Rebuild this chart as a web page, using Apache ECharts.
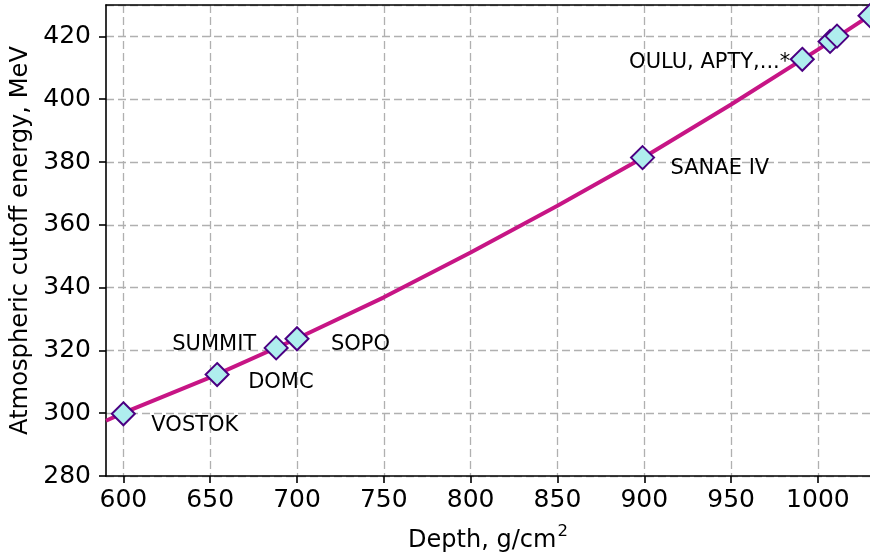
<!DOCTYPE html>
<html>
<head>
<meta charset="utf-8">
<script src="https://cdn.jsdelivr.net/npm/echarts@6/dist/echarts.min.js"></script>
<style>
html,body{margin:0;padding:0;background:#fff;}
#chart{width:870px;height:558px;}
</style>
</head>
<body>
<div id="chart"></div>
<script>
// Fitted curve (depth g/cm2 -> cutoff energy MeV)
var curveDepth  = [590, 600, 650, 700, 750, 800, 850, 900, 950, 1000, 1030];
var curveEnergy = [297.6, 300.1, 311.4, 323.8, 336.9, 351.2, 366.1, 381.6, 398.3, 415.8, 426.7];

// Stations
var stationNames  = ['VOSTOK', 'DOMC', 'SUMMIT', 'SOPO', 'SANAE IV', 'OULU, APTY,...*', '', '', ''];
var stationDepth  = [600, 654, 688, 700, 899, 991, 1007, 1011, 1030];
var stationEnergy = [299.8, 312.3, 320.8, 323.7, 381.4, 412.7, 418.4, 420.1, 426.6];

// label placement (style only)
var labelAlign  = ['left', 'left', 'right', 'left', 'left', 'right', 'left', 'left', 'left'];
var labelOffset = [[28, 12], [31, 8], [-20, -3], [34, 6], [28, 11], [-12, 3], [0, 0], [0, 0], [0, 0]];

var xTicks = [600, 650, 700, 750, 800, 850, 900, 950, 1000];
var yTicks = [280, 300, 320, 340, 360, 380, 400, 420];

var FONT = 'DejaVu Sans';

var curveData = curveDepth.map(function (d, i) { return [d, curveEnergy[i]]; });
var stationData = stationDepth.map(function (d, i) {
  return {
    value: [d, stationEnergy[i]],
    label: {
      show: stationNames[i] !== '',
      formatter: stationNames[i],
      position: ['50%', '50%'],
      align: labelAlign[i],
      verticalAlign: 'middle',
      offset: labelOffset[i]
    }
  };
});

var chart = echarts.init(document.getElementById('chart'), null, {renderer: 'canvas'});
chart.setOption({
  animation: false,
  backgroundColor: '#ffffff',
  grid: {left: 106, right: 0, top: 5, bottom: 80, containLabel: false},
  xAxis: [{
    type: 'value',
    min: 590, max: 1030,
    name: '{a|Depth, g/cm}{s|2}',
    nameLocation: 'middle',
    nameGap: 47,
    nameTextStyle: {
      rich: {
        a: {fontFamily: FONT, fontSize: 24, color: '#000', lineHeight: 30, verticalAlign: 'bottom'},
        s: {fontFamily: FONT, fontSize: 16.5, color: '#000', lineHeight: 30, verticalAlign: 'top', padding: [0, 0, 0, 1]}
      }
    },
    axisLine: {show: true, onZero: false, lineStyle: {color: '#000', width: 1.6}},
    axisTick: {show: true, length: 7, customValues: xTicks, lineStyle: {color: '#000', width: 1.6}},
    axisLabel: {
      fontFamily: FONT, fontSize: 25, color: '#000', margin: 12,
      customValues: xTicks,
      formatter: function (v) { return String(v); }
    },
    splitLine: {show: true, lineStyle: {color: '#b0b0b0', width: 1.3, type: [8, 4]}}
  }, {
    type: 'value', position: 'top',
    min: 590, max: 1030,
    axisLine: {show: true, onZero: false, lineStyle: {color: '#000', width: 1.6}},
    axisTick: {show: false}, axisLabel: {show: false}, splitLine: {show: false}
  }],
  yAxis: {
    type: 'value',
    min: 280, max: 430, interval: 20,
    name: 'Atmospheric cutoff energy, MeV',
    nameLocation: 'middle',
    nameGap: 70,
    nameTextStyle: {fontFamily: FONT, fontSize: 24.2, color: '#000'},
    axisLine: {show: true, onZero: false, lineStyle: {color: '#000', width: 1.6}},
    axisTick: {show: true, length: 7, lineStyle: {color: '#000', width: 1.6}},
    axisLabel: {
      fontFamily: FONT, fontSize: 25, color: '#000', margin: 15,
      showMaxLabel: false,
      formatter: function (v) { return yTicks.indexOf(v) >= 0 ? String(v) : ''; }
    },
    splitLine: {show: true, lineStyle: {color: '#b0b0b0', width: 1.3, type: [8, 4]}}
  },
  series: [{
    type: 'line',
    xAxisIndex: 0,
    data: curveData,
    showSymbol: false,
    symbol: 'none',
    smooth: false,
    clip: true,
    lineStyle: {color: '#c71585', width: 4},
    z: 2
  }, {
    type: 'scatter',
    xAxisIndex: 0,
    data: stationData,
    symbol: 'diamond',
    symbolSize: 23,
    clip: false,
    itemStyle: {color: '#afeeee', borderColor: '#4b0082', borderWidth: 2, opacity: 1},
    label: {fontFamily: FONT, fontSize: 21, color: '#000'},
    emphasis: {disabled: true},
    z: 3
  }]
});
</script>
</body>
</html>
